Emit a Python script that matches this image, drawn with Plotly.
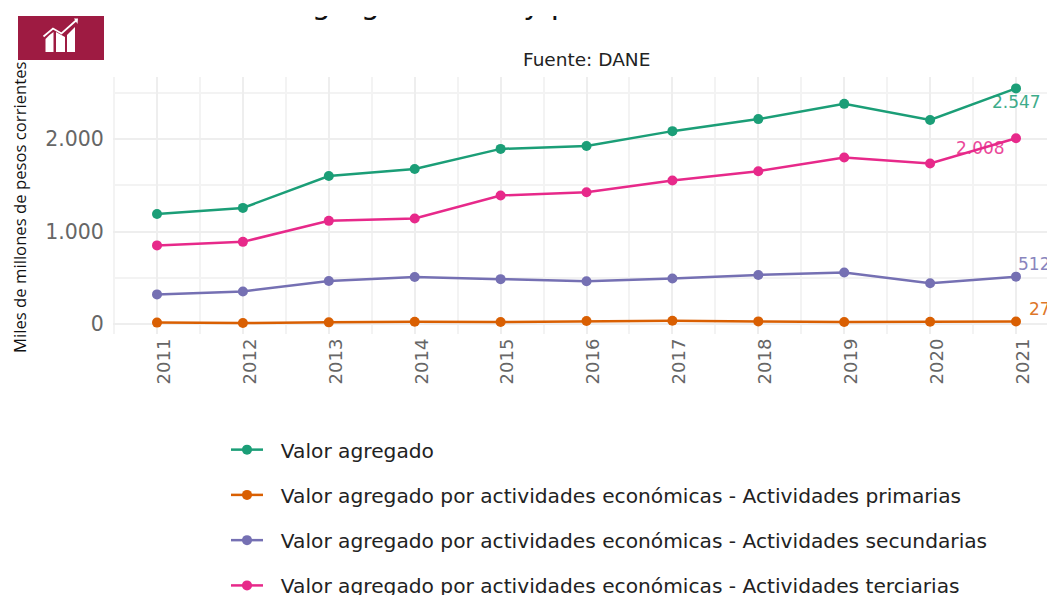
import plotly.graph_objects as go

W, H = 1047, 595
YEARS = [2011, 2012, 2013, 2014, 2015, 2016, 2017, 2018, 2019, 2020, 2021]
NAMES = [
    "Valor agregado",
    "Valor agregado por actividades económicas - Actividades primarias",
    "Valor agregado por actividades económicas - Actividades secundarias",
    "Valor agregado por actividades económicas - Actividades terciarias",
]
TOTAL = [1190, 1255, 1600, 1675, 1893, 1925, 2085, 2215, 2380, 2205, 2547]
PRIMARIAS = [15, 10, 18, 25, 22, 32, 35, 28, 22, 25, 27]
SECUNDARIAS = [320, 352, 465, 508, 485, 462, 492, 530, 557, 440, 512]
TERCIARIAS = [850, 888, 1115, 1140, 1390, 1425, 1552, 1652, 1800, 1735, 2008]
COLORS = ["#1B9E77", "#D95F02", "#7570B3", "#E7298A"]
TITLE = "Valor agregado total y por actividades económicas"
SUBTITLE = "Fuente: DANE"
YTITLE = "Miles de millones de pesos corrientes"
FONT = "DejaVu Sans"


def fx(x):
    return x / W


def fy(y):
    return 1 - y / H


fig = go.Figure()
for i, (name, vals) in enumerate(zip(NAMES, [TOTAL, PRIMARIAS, SECUNDARIAS, TERCIARIAS])):
    fig.add_trace(go.Scatter(
        x=YEARS, y=vals, name="\u00a0\u00a0" + name, mode="lines+markers", legendgroup=name,
        line=dict(color=COLORS[i], width=2.5),
        marker=dict(color=COLORS[i], size=10),
        cliponaxis=False,
    ))

# The title is cut by the blank band at the top of the picture (white shape above it)
fig.add_trace(go.Scatter(
    x=[589], y=[21], mode="text", text=[TITLE], textposition="top center",
    textfont=dict(family=FONT, size=30, color="#111111"),
    xaxis="x2", yaxis="y2", showlegend=False, hoverinfo="skip", cliponaxis=False,
))

labels = [
    (TOTAL, 0, 0, 14, "center"),
    (TERCIARIAS, 3, -36, 10, "center"),
    (SECUNDARIAS, 2, 0, -13, "left"),
    (PRIMARIAS, 1, 11, -13, "left"),
]
annotations = []
for vals, c, dx, dy, anchor in labels:
    annotations.append(dict(
        x=YEARS[-1], y=vals[-1], xref="x", yref="y", showarrow=False,
        text=f"{vals[-1]:,}".replace(",", "."), xanchor=anchor, yanchor="middle",
        xshift=dx, yshift=-dy, opacity=0.85,
        font=dict(family=FONT, size=17, color=COLORS[c]),
    ))
annotations.append(dict(
    x=fx(586), y=fy(60), xref="paper", yref="paper", showarrow=False, text=SUBTITLE,
    xanchor="center", yanchor="middle", font=dict(family=FONT, size=18.5, color="#222222"),
))
annotations.append(dict(
    x=fx(19), y=fy(207), xref="paper", yref="paper", showarrow=False, text=YTITLE,
    textangle=-90, xanchor="center", yanchor="middle",
    font=dict(family="Open Sans", size=16.7, color="#111111"),
))

# Blank band and logo
CRIMSON = "#9E1B42"
shapes = [
    dict(type="rect", xref="paper", yref="paper", x0=0, x1=1, y0=fy(16), y1=1,
         fillcolor="white", line=dict(width=0), layer="above"),
    dict(type="rect", xref="paper", yref="paper", x0=fx(18), x1=fx(104), y0=fy(60), y1=fy(16),
         fillcolor=CRIMSON, line=dict(width=0), layer="above"),
]


def poly(points, closed=True):
    p = " L ".join(f"{fx(a):.5f} {fy(b):.5f}" for a, b in points)
    return "M " + p + (" Z" if closed else "")


for pts in [
    [(45.5, 39), (49.5, 35), (53.5, 32), (53.5, 52), (45.5, 52)],
    [(56, 32), (65, 37), (65, 52), (56, 52)],
    [(67, 35), (75, 27), (75, 52), (67, 52)],
    [(74, 18.5), (78, 18.5), (77.5, 24)],
]:
    shapes.append(dict(type="path", xref="paper", yref="paper", path=poly(pts),
                       fillcolor="white", line=dict(width=0), layer="above"))
shapes.append(dict(type="path", xref="paper", yref="paper",
                   path=poly([(43.5, 36.5), (53, 28.5), (61.5, 33.5), (76, 20.5)], closed=False),
                   line=dict(color="white", width=1.8), layer="above"))

fig.update_layout(
    width=W, height=H, autosize=False,
    margin=dict(l=0, r=0, t=0, b=0, autoexpand=False),
    paper_bgcolor="white", plot_bgcolor="white",
    separators=",.",
    font=dict(family=FONT),
    showlegend=True,
    legend=dict(
        x=fx(226), y=fy(430), xanchor="left", yanchor="top", itemwidth=32,
        tracegroupgap=16, font=dict(family=FONT, size=20.2, color="#222222"),
        bgcolor="rgba(0,0,0,0)", traceorder="grouped", itemclick=False,
    ),
    xaxis=dict(
        domain=[fx(113), 1], range=[2011 - 44 / 85.9, 2011 + (W - 157) / 85.9],
        tickmode="array", tickvals=YEARS, tickangle=-90, ticklabelshift=7,
        tickfont=dict(family=FONT, size=18, color="#666666"),
        showgrid=True, gridcolor="#eeeeee", gridwidth=2, zeroline=False, showline=False,
        minor=dict(dtick=0.5, tick0=2010.5, showgrid=True, gridcolor="#f3f3f3", gridwidth=1.5),
        ticks="",
    ),
    yaxis=dict(
        domain=[fy(334), fy(77)], range=[-10 / 0.0925, 247 / 0.0925],
        tickmode="array", tickvals=[0, 1000, 2000], tickformat=",d",
        tickfont=dict(family=FONT, size=20.5, color="#666666"),
        showgrid=True, gridcolor="#eeeeee", gridwidth=2, zeroline=False, showline=False,
        minor=dict(dtick=500, tick0=500, showgrid=True, gridcolor="#f3f3f3", gridwidth=1.5),
        ticks="outside", ticklen=4, tickcolor="white",
    ),
    xaxis2=dict(domain=[0, 1], range=[0, W], visible=False, anchor="y2"),
    yaxis2=dict(domain=[fy(40), 1], range=[40, 0], visible=False, anchor="x2"),
    annotations=annotations,
    shapes=shapes,
)

fig.write_html("out.html", config={"displayModeBar": False},
               post_script="document.body.style.margin='0';")
